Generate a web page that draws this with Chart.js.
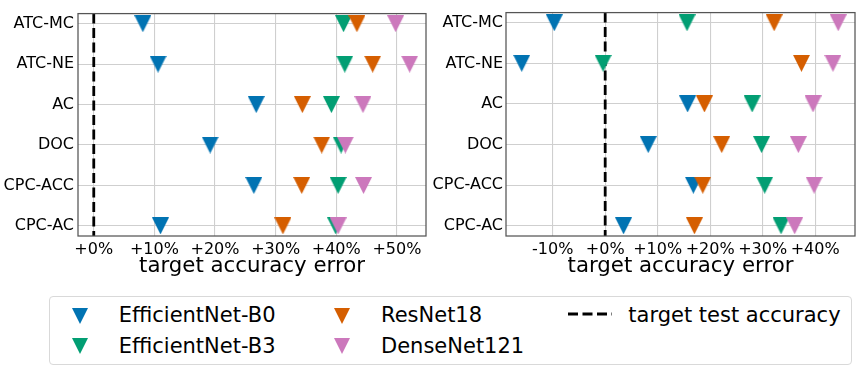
<!DOCTYPE html>
<html>
<head>
<meta charset="utf-8">
<script src="https://cdn.jsdelivr.net/npm/chart.js@4.4.1/dist/chart.umd.min.js"></script>
<style>
	body { margin: 0; background: #fff; width: 859px; height: 370px; position: relative; overflow: hidden; font-family: "DejaVu Sans", sans-serif; }
	#chartLeft { position: absolute; left: 0; top: 0; }
	#chartRight { position: absolute; left: 430px; top: 0; }
	#legend { position: absolute; left: 49px; top: 296px; width: 801px; height: 67px; border: 1px solid #d9d9d9; border-radius: 4px; font-size: 21px; color: #000; }
	.lg-text { position: absolute; line-height: 21px; white-space: nowrap; }
	.lg-mark { position: absolute; width: 0; height: 0; border-left: 8px solid transparent; border-right: 8px solid transparent; }
	.lg-dash { position: absolute; }
</style>
</head>
<body>
<canvas id="chartLeft" width="430" height="290"></canvas>
<canvas id="chartRight" width="429" height="290"></canvas>
<div id="legend"></div>
<script>
// categories (top to bottom) and models
const methods = ['ATC-MC', 'ATC-NE', 'AC', 'DOC', 'CPC-ACC', 'CPC-AC'];
const models = ['EfficientNet-B0', 'EfficientNet-B3', 'ResNet18', 'DenseNet121'];
const modelColors = ['#0173b2', '#029e73', '#d55e00', '#cc78bc'];

// left panel: target accuracy error in %
const leftEffB0 = [8.1, 10.6, 26.8, 19.2, 26.4, 11.0];
const leftEffB3 = [41.2, 41.4, 39.2, 40.8, 40.3, 39.9];
const leftRes18 = [43.4, 46.0, 34.4, 37.6, 34.3, 31.2];
const leftDense121 = [49.8, 52.1, 44.4, 41.5, 44.5, 40.3];

// right panel
const rightEffB0 = [-9.7, -15.9, 15.7, 8.2, 16.8, 3.5];
const rightEffB3 = [15.6, -0.4, 28.0, 29.8, 30.4, 33.5];
const rightRes18 = [32.2, 37.4, 18.9, 22.2, 18.6, 17.0];
const rightDense121 = [44.4, 43.4, 39.6, 36.8, 39.8, 36.1];

const leftTicks = [0, 10, 20, 30, 40, 50];
const rightTicks = [-10, 0, 10, 20, 30, 40];
const targetAcc = 0;

const xTitle = 'target accuracy error';
const legendTarget = 'target test accuracy';

window.onload = function () {
	// matplotlib style "v" marker
	const makeTriangle = (color, size) => {
		let c = document.createElement('canvas');
		c.width = size;
		c.height = size;
		let g = c.getContext('2d');
		g.fillStyle = color;
		g.beginPath();
		g.moveTo(0, 0);
		g.lineTo(size, 0);
		g.lineTo(size / 2, size);
		g.closePath();
		g.fill();
		return c;
	};
	const markers = modelColors.map(c => makeTriangle(c, 17));

	const fmtPct = v => (v < 0 ? '-' + Math.abs(v) : '+' + v) + '%';

	const framePlugin = {
		id: 'frame',
		afterDatasetsDraw(chart) {
			const a = chart.chartArea;
			const ctx = chart.ctx;
			ctx.save();
			ctx.strokeStyle = '#555555';
			ctx.lineWidth = 1.25;
			ctx.strokeRect(a.left, a.top, a.right - a.left, a.bottom - a.top);
			ctx.restore();
		}
	};

	const buildChart = (id, series, ticks, xmin, xmax, yAxisWidth, labelPad, padRight) => {
		let datasets = series.map((vals, i) => ({
			type: 'scatter',
			label: models[i],
			data: vals.map((v, j) => ({ x: v, y: j })),
			pointStyle: markers[i],
			pointRadius: 8,
			pointHoverRadius: 8,
			order: 4 - i
		}));
		datasets.push({
			type: 'line',
			label: legendTarget,
			data: [{ x: targetAcc, y: -0.25 }, { x: targetAcc, y: methods.length - 0.75 }],
			borderColor: '#000',
			borderWidth: 2.8,
			borderDash: [10, 4.5],
			pointRadius: 0,
			order: 10
		});

		return new Chart(document.getElementById(id), {
			type: 'scatter',
			data: { datasets: datasets },
			options: {
				responsive: false,
				animation: false,
				layout: { autoPadding: false, padding: { top: 4, right: padRight, left: 0, bottom: 0 } },
				plugins: { legend: { display: false }, tooltip: { enabled: false } },
				scales: {
					x: {
						type: 'linear',
						min: xmin,
						max: xmax,
						afterBuildTicks: s => { s.ticks = ticks.map(v => ({ value: v })); },
						afterFit: s => { s.height = 54; },
						grid: { color: '#cfcfcf', lineWidth: 1.1, drawTicks: false },
						border: { display: false },
						ticks: {
							padding: 4,
							color: '#000',
							font: { family: 'DejaVu Sans', size: 16 },
							maxRotation: 0,
							callback: v => fmtPct(v)
						},
						title: {
							display: true,
							text: xTitle,
							color: '#000',
							font: { family: 'DejaVu Sans', size: 21.3 },
							padding: { top: 0, bottom: 11 }
						}
					},
					y: {
						type: 'linear',
						reverse: true,
						min: -0.25,
						max: methods.length - 0.75,
						afterBuildTicks: s => { s.ticks = methods.map((m, i) => ({ value: i })); },
						afterFit: s => { s.width = yAxisWidth; },
						grid: { color: '#cfcfcf', lineWidth: 1.1, drawTicks: false },
						border: { display: false },
						ticks: {
							padding: labelPad,
							color: '#000',
							font: { family: 'DejaVu Sans', size: 16 },
							callback: v => methods[v]
						}
					}
				}
			},
			plugins: [framePlugin]
		});
	};

	buildChart('chartLeft', [leftEffB0, leftEffB3, leftRes18, leftDense121], leftTicks, -2.6, 54.8, 78, 4, 4);
	buildChart('chartRight', [rightEffB0, rightEffB3, rightRes18, rightDense121], rightTicks, -18.9, 47.6, 76, 3, 4);

	// legend, 2 rows x 3 columns like matplotlib's ncol=3
	const legend = document.getElementById('legend');
	const cols = [{ mark: 29.7, text: 68.7 }, { mark: 292, text: 331 }];
	const rows = [{ mark: 18.5, text: 7.9 }, { mark: 48.7, text: 38.9 }];
	models.forEach((m, i) => {
		let col = cols[Math.floor(i / 2)];
		let row = rows[i % 2];
		let mk = document.createElement('div');
		mk.className = 'lg-mark';
		mk.style.left = (col.mark - 8) + 'px';
		mk.style.top = (row.mark - 8) + 'px';
		mk.style.borderTop = '16px solid ' + modelColors[i];
		legend.appendChild(mk);
		let t = document.createElement('div');
		t.className = 'lg-text';
		t.style.left = col.text + 'px';
		t.style.top = row.text + 'px';
		t.textContent = m;
		legend.appendChild(t);
	});
	let dash = document.createElementNS('http://www.w3.org/2000/svg', 'svg');
	dash.setAttribute('class', 'lg-dash');
	dash.setAttribute('width', '44');
	dash.setAttribute('height', '6');
	dash.style.left = '517.7px';
	dash.style.top = '14.3px';
	dash.innerHTML = '<line x1="0" y1="3" x2="44" y2="3" stroke="#000" stroke-width="2.8" stroke-dasharray="10,4.5"/>';
	legend.appendChild(dash);
	let tt = document.createElement('div');
	tt.className = 'lg-text';
	tt.style.left = '578.3px';
	tt.style.top = rows[0].text + 'px';
	tt.textContent = legendTarget;
	legend.appendChild(tt);
};
</script>
</body>
</html>
